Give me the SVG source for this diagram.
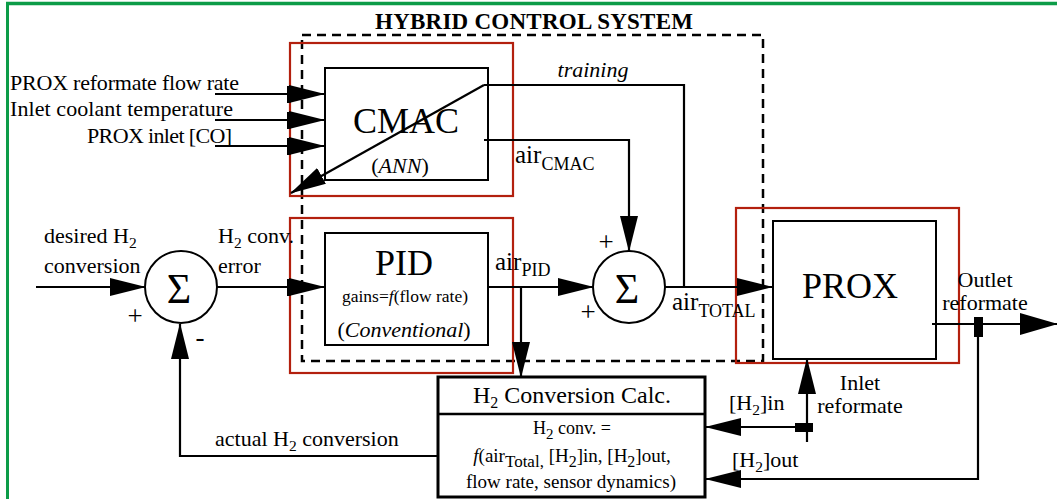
<svg xmlns="http://www.w3.org/2000/svg" width="1057" height="499" viewBox="0 0 1057 499">
<defs>
<style>
text{font-family:"Liberation Serif","Times New Roman",serif;fill:#000;}
.lbl{font-size:22px;}
.air{font-size:25px;}
.big{font-size:36px;}
.it{font-style:italic;}
.sub{font-size:15.5px;}
.asub{font-size:18px;}
.pm{font-size:27px;}
.ln{fill:none;stroke:#000;stroke-width:2.2;}
.arr{marker-end:url(#ah);}
.box{fill:#fff;stroke:#000;stroke-width:2;}
.red{fill:none;stroke:#b3200e;stroke-width:2.2;}
.sum{fill:#fff;stroke:#000;stroke-width:2;}
</style>
<marker id="ah" viewBox="0 0 36 18" refX="35" refY="9" markerWidth="36" markerHeight="18" markerUnits="userSpaceOnUse" orient="auto"><path d="M0,0 L36,9 L0,18 z" fill="#000"/></marker>
<marker id="ahL" viewBox="0 0 38 22" refX="37" refY="11" markerWidth="38" markerHeight="22" markerUnits="userSpaceOnUse" orient="auto"><path d="M0,0 L38,11 L0,22 z" fill="#000"/></marker>
</defs>
<rect width="1057" height="499" fill="#fff"/>
<!-- green frame -->
<g id="frame">
<line x1="6" y1="3.5" x2="1057" y2="3.5" stroke="#0c9c48" stroke-width="3.5"/>
<line x1="7.5" y1="2" x2="7.5" y2="499" stroke="#0c9c48" stroke-width="3"/>
</g>
<!-- hybrid control system dashed boundary -->
<g id="hybrid">
<rect x="302" y="35" width="461" height="326" fill="none" stroke="#000" stroke-width="2.5" stroke-dasharray="9 6"/>
<text x="534" y="29" text-anchor="middle" font-weight="bold" font-size="23" textLength="318">HYBRID CONTROL SYSTEM</text>
</g>
<!-- input labels -->
<g id="inputs">
<text class="lbl" x="10" y="90" textLength="229">PROX reformate flow rate</text>
<text class="lbl" x="10" y="116" textLength="223">Inlet coolant temperature</text>
<text class="lbl" x="87" y="143" textLength="145">PROX inlet [CO]</text>
</g>
<!-- CMAC -->
<g id="cmac">
<rect class="red" x="290" y="43" width="223" height="153"/>
<rect class="box" x="325" y="68" width="163" height="112"/>
<text class="big" x="406" y="133" text-anchor="middle" font-size="37">CMAC</text>
<text class="lbl" x="400" y="173" text-anchor="middle" font-size="23">(<tspan class="it">ANN</tspan>)</text>
</g>
<!-- PID -->
<g id="pid">
<rect class="red" x="290" y="218" width="223" height="155"/>
<rect class="box" x="325" y="233" width="163" height="112"/>
<text class="big" x="404" y="275" text-anchor="middle">PID</text>
<text x="405" y="302" text-anchor="middle" font-size="17.5">gains=<tspan class="it">f</tspan>(flow rate)</text>
<text class="lbl" x="404" y="337" text-anchor="middle" font-size="22.5">(<tspan class="it">Conventional</tspan>)</text>
</g>
<!-- PROX -->
<g id="prox">
<rect class="red" x="736" y="208" width="223" height="155"/>
<rect class="box" x="773" y="221" width="163" height="138"/>
<text class="big" x="850" y="298" text-anchor="middle">PROX</text>
</g>
<!-- summing junctions -->
<g id="sum1">
<circle class="sum" cx="181" cy="287" r="36"/>
<text x="179" y="303" text-anchor="middle" font-size="42">Σ</text>
</g>
<g id="sum2">
<circle class="sum" cx="629" cy="287" r="36"/>
<text x="627" y="303" text-anchor="middle" font-size="42">Σ</text>
</g>
<!-- H2 conversion calc -->
<g id="h2calc">
<rect x="438" y="377" width="267" height="120" fill="#fff" stroke="#000" stroke-width="3"/>
<line x1="438" y1="414" x2="705" y2="414" stroke="#000" stroke-width="2.5"/>
<text x="572" y="403" text-anchor="middle" font-size="24">H<tspan font-size="16" dy="5">2</tspan><tspan dy="-5"> Conversion Calc.</tspan></text>
<text x="572" y="434" text-anchor="middle" font-size="18">H<tspan font-size="15" dy="5">2</tspan><tspan dy="-5"> conv. =</tspan></text>
<text x="572" y="462" text-anchor="middle" font-size="19"><tspan class="it">f</tspan>(air<tspan font-size="17" dy="5">Total,</tspan><tspan dy="-5"> [H</tspan><tspan font-size="16" dy="5">2</tspan><tspan dy="-5">]in, [H</tspan><tspan font-size="16" dy="5">2</tspan><tspan dy="-5">]out,</tspan></text>
<text x="571" y="488" text-anchor="middle" font-size="19">flow rate, sensor dynamics)</text>
</g>
<!-- connectors -->
<g id="connectors">
<line class="ln arr" x1="215" y1="94" x2="324" y2="94"/>
<line class="ln arr" x1="215" y1="120" x2="324" y2="120"/>
<line class="ln arr" x1="215" y1="146" x2="324" y2="146"/>
<rect x="287" y="86" width="3.5" height="17" fill="#000"/>
<rect x="287" y="112" width="3.5" height="17" fill="#000"/>
<rect x="287" y="138" width="3.5" height="17" fill="#000"/>
<polyline class="ln" points="484,85 684,85 684,287"/>
<line class="ln arr" x1="484" y1="85" x2="291" y2="193"/>
<polyline class="ln arr" points="484,140 629,140 629,251"/>
<line class="ln arr" x1="36" y1="287" x2="145" y2="287"/>
<line class="ln arr" x1="217" y1="287" x2="324" y2="287"/>
<rect x="287" y="279" width="3.5" height="17" fill="#000"/>
<line class="ln arr" x1="488" y1="287" x2="593" y2="287"/>
<line class="ln arr" x1="521" y1="287" x2="521" y2="377"/>
<line class="ln arr" x1="665" y1="287" x2="772" y2="287"/>
<line class="ln" x1="932" y1="324" x2="1020" y2="324"/>
<line class="ln" x1="1000" y1="324" x2="1057" y2="324" marker-end="url(#ahL)"/>
<rect x="974" y="317" width="9" height="20" fill="#000"/>
<polyline class="ln arr" points="978,324 978,479 706,479"/>
<line class="ln arr" x1="807" y1="442" x2="807" y2="359"/>
<rect x="795" y="423" width="18" height="9" fill="#000"/>
<line class="ln arr" x1="807" y1="427" x2="706" y2="427"/>
<polyline class="ln arr" points="438,456 180,456 180,324"/>
</g>
<!-- connector labels -->
<g id="labels">
<text class="lbl it" x="593" y="77" text-anchor="middle">training</text>
<text class="air" x="515" y="163">air<tspan class="asub" dy="7">CMAC</tspan></text>
<text class="lbl" x="44" y="243">desired H<tspan class="sub" dy="5">2</tspan></text>
<text class="lbl" x="44" y="273">conversion</text>
<text class="lbl" x="218" y="243">H<tspan class="sub" dy="5">2</tspan><tspan dy="-5"> conv.</tspan></text>
<text class="lbl" x="218" y="273">error</text>
<text class="pm" x="135" y="325" text-anchor="middle">+</text>
<text class="pm" x="200" y="346" text-anchor="middle">-</text>
<text class="air" x="495" y="270">air<tspan class="asub" dy="6">PID</tspan></text>
<text class="pm" x="606" y="251" text-anchor="middle">+</text>
<text class="pm" x="588" y="321" text-anchor="middle">+</text>
<text class="air" x="672" y="310">air<tspan class="asub" dy="7">TOTAL</tspan></text>
<text class="lbl" x="985" y="287" text-anchor="middle">Outlet</text>
<text class="lbl" x="985" y="310" text-anchor="middle">reformate</text>
<text class="lbl" x="860" y="390" text-anchor="middle">Inlet</text>
<text class="lbl" x="860" y="413" text-anchor="middle">reformate</text>
<text class="lbl" x="729" y="410">[H<tspan class="sub" dy="5">2</tspan><tspan dy="-5">]in</tspan></text>
<text class="lbl" x="732" y="467">[H<tspan class="sub" dy="5">2</tspan><tspan dy="-5">]out</tspan></text>
<text class="lbl" x="215" y="446">actual H<tspan class="sub" dy="5">2</tspan><tspan dy="-5"> conversion</tspan></text>
</g>
</svg>
